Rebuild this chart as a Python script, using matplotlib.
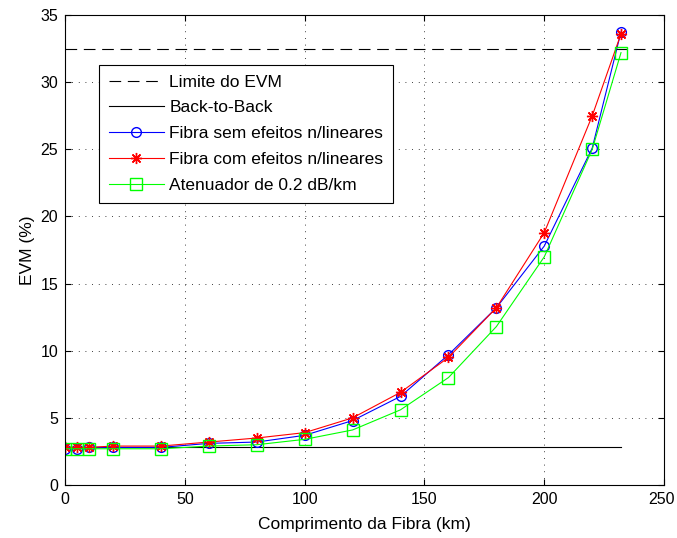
import matplotlib
matplotlib.use("Agg")
import matplotlib.pyplot as plt
from matplotlib.transforms import ScaledTranslation

plt.rcParams['font.family'] = ['Liberation Sans', 'DejaVu Sans']

# Fibre length (km)
distancia = [0, 5, 10, 20, 40, 60, 80, 100, 120, 140, 160, 180, 200, 220, 232]

evm_sem_nl = [2.7, 2.7, 2.8, 2.8, 2.8, 3.1, 3.2, 3.7, 4.8, 6.6, 9.7, 13.2, 17.8, 25.1, 33.75]
evm_com_nl = [2.8, 2.8, 2.8, 2.9, 2.9, 3.2, 3.5, 3.9, 5.0, 6.9, 9.5, 13.2, 18.8, 27.5, 33.6]
evm_atenuador = [2.7, 2.7, 2.7, 2.7, 2.7, 2.9, 3.0, 3.4, 4.1, 5.6, 8.0, 11.8, 17.0, 25.0, 32.2]

b2b_x = [0, 232]
b2b_y = [2.8, 2.8]
limite_evm = 32.5

xticks = [0, 50, 100, 150, 200, 250]
yticks = [0, 5, 10, 15, 20, 25, 30, 35]

FS = 12.5
TICK_FS = 11.5

fig = plt.figure(figsize=(6.77, 5.38), dpi=100)
ax = fig.add_axes([0.096, 0.0985, 0.885, 0.8735])

ax.axhline(limite_evm, color='black', linestyle=(0, (10.5, 6)), linewidth=0.8, label='Limite do EVM')
ax.plot(b2b_x, b2b_y, color='black', linewidth=0.8, label='Back-to-Back')
ax.plot(distancia, evm_sem_nl, color='blue', linewidth=0.8, marker='o', markersize=7,
        markerfacecolor='none', markeredgecolor='blue', label='Fibra sem efeitos n/lineares')
ax.plot(distancia, evm_com_nl, color='red', linewidth=0.8, marker=(8, 2, 0), markersize=8,
        markeredgewidth=1.0, markeredgecolor='red', label='Fibra com efeitos n/lineares')
ax.plot(distancia, evm_atenuador, color='#00ff00', linewidth=0.8, marker='s', markersize=8,
        markerfacecolor='none', markeredgecolor='#00ff00', label='Atenuador de 0.2 dB/km')

ax.set_xlim(0, 250)
ax.set_ylim(0, 35)
ax.set_xticks(xticks)
ax.set_yticks(yticks)
ax.tick_params(direction='in', top=True, right=True, labelsize=TICK_FS, length=4, pad=5)
ax.grid(True, linestyle=(0, (1, 7)), color='black', linewidth=0.6)
for s in ax.spines.values():
    s.set_linewidth(0.8)

# keep the last x tick label inside the figure edge
last = ax.get_xticklabels()[-1]
last.set_transform(last.get_transform() + ScaledTranslation(-2 / 72, 0, fig.dpi_scale_trans))

ax.set_xlabel('Comprimento da Fibra (km)', fontsize=FS, labelpad=7)
ax.set_ylabel('EVM (%)', fontsize=FS, labelpad=4)

leg = ax.legend(loc='upper left', bbox_to_anchor=(0.057, 0.894), borderaxespad=0,
                fancybox=False, edgecolor='black', framealpha=1, fontsize=FS,
                handlelength=3.2, labelspacing=0.62, handletextpad=0.3, borderpad=0.55)
leg.get_frame().set_linewidth(0.8)

fig.savefig('out.png', dpi=100)
